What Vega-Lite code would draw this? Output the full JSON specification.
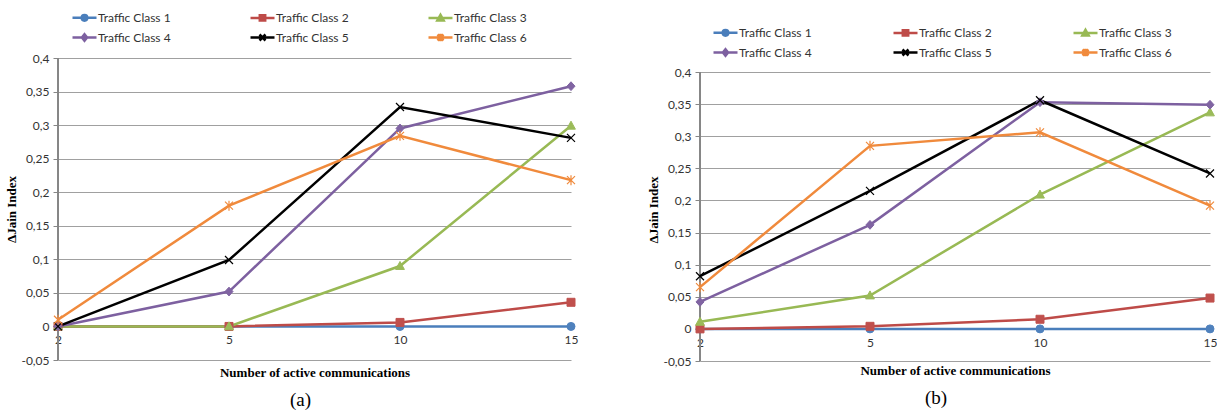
{
  "$schema": "https://vega.github.io/schema/vega-lite/v6.json",
  "background": "white",
  "padding": {"left": 5, "top": 6, "right": 0, "bottom": 0},
  "autosize": {"type": "pad"},
  "spacing": 69,
  "config": {
    "view": {"stroke": null},
    "axis": {"labelFont": "Lato", "labelFontSize": 12, "labelColor": "#333333", "titleFont": "Liberation Serif", "titleFontSize": 13, "titleFontWeight": "bold", "titleColor": "#000000"}
  },
  "datasets": {
    "a": [
      {"n": "2", "series": "Traffic Class 1", "value": 0},
      {"n": "5", "series": "Traffic Class 1", "value": 0},
      {"n": "10", "series": "Traffic Class 1", "value": 0},
      {"n": "15", "series": "Traffic Class 1", "value": 0},
      {"n": "2", "series": "Traffic Class  2", "value": 0},
      {"n": "5", "series": "Traffic Class  2", "value": 0},
      {"n": "10", "series": "Traffic Class  2", "value": 0.006},
      {"n": "15", "series": "Traffic Class  2", "value": 0.036},
      {"n": "2", "series": "Traffic Class  3", "value": 0},
      {"n": "5", "series": "Traffic Class  3", "value": 0},
      {"n": "10", "series": "Traffic Class  3", "value": 0.09},
      {"n": "15", "series": "Traffic Class  3", "value": 0.299},
      {"n": "2", "series": "Traffic Class  4", "value": 0},
      {"n": "5", "series": "Traffic Class  4", "value": 0.052},
      {"n": "10", "series": "Traffic Class  4", "value": 0.295},
      {"n": "15", "series": "Traffic Class  4", "value": 0.358},
      {"n": "2", "series": "Traffic Class  5", "value": 0},
      {"n": "5", "series": "Traffic Class  5", "value": 0.099},
      {"n": "10", "series": "Traffic Class  5", "value": 0.327},
      {"n": "15", "series": "Traffic Class  5", "value": 0.281},
      {"n": "2", "series": "Traffic Class  6", "value": 0.01},
      {"n": "5", "series": "Traffic Class  6", "value": 0.18},
      {"n": "10", "series": "Traffic Class  6", "value": 0.284},
      {"n": "15", "series": "Traffic Class  6", "value": 0.218}
    ],
    "b": [
      {"n": "2", "series": "Traffic Class 1", "value": 0},
      {"n": "5", "series": "Traffic Class 1", "value": 0},
      {"n": "10", "series": "Traffic Class 1", "value": 0},
      {"n": "15", "series": "Traffic Class 1", "value": 0},
      {"n": "2", "series": "Traffic Class  2", "value": 0},
      {"n": "5", "series": "Traffic Class  2", "value": 0.004},
      {"n": "10", "series": "Traffic Class  2", "value": 0.015},
      {"n": "15", "series": "Traffic Class  2", "value": 0.048},
      {"n": "2", "series": "Traffic Class  3", "value": 0.011},
      {"n": "5", "series": "Traffic Class  3", "value": 0.052},
      {"n": "10", "series": "Traffic Class  3", "value": 0.209},
      {"n": "15", "series": "Traffic Class  3", "value": 0.337},
      {"n": "2", "series": "Traffic Class  4", "value": 0.042},
      {"n": "5", "series": "Traffic Class  4", "value": 0.162},
      {"n": "10", "series": "Traffic Class  4", "value": 0.353},
      {"n": "15", "series": "Traffic Class  4", "value": 0.349},
      {"n": "2", "series": "Traffic Class  5", "value": 0.082},
      {"n": "5", "series": "Traffic Class  5", "value": 0.215},
      {"n": "10", "series": "Traffic Class  5", "value": 0.356},
      {"n": "15", "series": "Traffic Class  5", "value": 0.242},
      {"n": "2", "series": "Traffic Class  6", "value": 0.065},
      {"n": "5", "series": "Traffic Class  6", "value": 0.285},
      {"n": "10", "series": "Traffic Class  6", "value": 0.306},
      {"n": "15", "series": "Traffic Class  6", "value": 0.192}
    ]
  },
  "resolve": {
    "scale": {"x": "independent", "y": "independent", "color": "independent"},
    "legend": {"color": "independent"}
  },
  "hconcat": [
    {
      "width": 513,
      "height": 302,
      "data": {"name": "a"},
      "title": {"text": "(a)", "orient": "bottom", "font": "Liberation Serif", "fontSize": 19, "fontWeight": "normal", "color": "#000000", "anchor": "middle", "offset": 12, "dx": -14},
      "encoding": {
        "x": {"field": "n", "type": "ordinal", "sort": ["2", "5", "10", "15"], "scale": {"type": "point", "padding": 0},
          "axis": {"title": "Number of active communications", "labelAngle": 0, "offset": -34, "ticks": false, "domain": true, "domainColor": "#868686", "labelPadding": 8, "titlePadding": 21, "grid": false}},
        "y": {"field": "value", "type": "quantitative", "scale": {"domain": [-0.05, 0.4], "nice": false, "zero": false},
          "axis": {"title": "ΔJain Index", "titlePadding": 2, "values": [-0.05, 0, 0.05, 0.1, 0.15, 0.2, 0.25, 0.3, 0.35, 0.4], "labelExpr": "replace(replace(format(datum.value, '.2~f'), '.', ','), '\u2212', '-')", "grid": true, "gridColor": "#A0A0A0", "domain": false, "tickColor": "#868686", "tickSize": 5, "labelPadding": 4}},
        "color": {"field": "series", "type": "nominal",
          "scale": {"domain": ["Traffic Class 1", "Traffic Class  2", "Traffic Class  3", "Traffic Class  4", "Traffic Class  5", "Traffic Class  6"], "range": ["#4A7EBB", "#BE4B48", "#98B954", "#7D60A0", "#000000", "#F08A3C"]},
          "legend": {"orient": "none", "legendX": 15, "legendY": -52, "direction": "horizontal", "columns": 3, "title": null, "symbolSize": 400, "labelOffset": 2, "columnPadding": 71, "rowPadding": 0, "padding": 0, "labelFont": "Lato", "labelFontSize": 12, "labelColor": "#333333",
            "encoding": {"symbols": {
              "shape": {"value": {"expr": "['M-1.2,0H1.2M-0.28,0A0.28,0.28,0,1,0,0.28,0A0.28,0.28,0,1,0,-0.28,0Z','M-1.2,0H1.2M-0.27,-0.27H0.27V0.27H-0.27Z','M-1.2,0H1.2M0,-0.32L0.32,0.26H-0.32Z','M-1.2,0H1.2M0,-0.32L0.26,0L0,0.32L-0.26,0Z','M-1.2,0H1.2M-0.3,-0.3L0.3,0.3M0.3,-0.3L-0.3,0.3','M-1.2,0H1.2M-0.3,-0.3L0.3,0.3M0.3,-0.3L-0.3,0.3M0,-0.38V0.38'][datum.index]"}},
              "fill": {"value": {"expr": "['#4F81BD','#C0504D','#9BBB59','#8064A2','#000000','#F79646'][datum.index]"}},
              "stroke": {"value": {"expr": "['#4A7EBB','#BE4B48','#98B954','#7D60A0','#000000','#F08A3C'][datum.index]"}},
              "strokeWidth": {"value": 2.5},
              "opacity": {"value": 1},
              "fillOpacity": {"value": 1},
              "strokeOpacity": {"value": 1}
            }}}
        }
      },
      "layer": [
        {"mark": {"type": "rule", "color": "#868686", "strokeWidth": 1}, "encoding": {"x": {"datum": "2", "type": "ordinal"}, "y": {"datum": -0.05}, "y2": {"datum": 0.4}, "color": {"value": "#868686"}}},
        {"mark": {"type": "line", "strokeWidth": 2.5}},
        {"transform": [{"filter": "datum.series === 'Traffic Class 1'"}], "mark": {"type": "point", "filled": true, "size": 64, "opacity": 1, "shape": "circle", "stroke": "#4F81BD", "strokeWidth": 1}, "encoding": {"color": {"value": "#4F81BD"}}},
        {"transform": [{"filter": "datum.series === 'Traffic Class  2'"}], "mark": {"type": "point", "filled": true, "size": 64, "opacity": 1, "shape": "square", "stroke": "#C0504D", "strokeWidth": 1}, "encoding": {"color": {"value": "#C0504D"}}},
        {"transform": [{"filter": "datum.series === 'Traffic Class  3'"}], "mark": {"type": "point", "filled": true, "size": 64, "opacity": 1, "shape": "M0,-1.15L1.1,0.85H-1.1Z", "stroke": "#9BBB59", "strokeWidth": 1}, "encoding": {"color": {"value": "#9BBB59"}}},
        {"transform": [{"filter": "datum.series === 'Traffic Class  4'"}], "mark": {"type": "point", "filled": true, "size": 64, "opacity": 1, "shape": "M0,-1.1L1,0L0,1.1L-1,0Z", "stroke": "#8064A2", "strokeWidth": 1}, "encoding": {"color": {"value": "#8064A2"}}},
        {"transform": [{"filter": "datum.series === 'Traffic Class  5'"}], "mark": {"type": "point", "filled": true, "size": 64, "opacity": 1, "shape": "M-1,-1L1,1M1,-1L-1,1", "stroke": "#000000", "strokeWidth": 1.2}, "encoding": {"color": {"value": "#000000"}}},
        {"transform": [{"filter": "datum.series === 'Traffic Class  6'"}], "mark": {"type": "point", "filled": true, "size": 64, "opacity": 1, "shape": "M-1,-1L1,1M1,-1L-1,1M0,-1.25V1.25", "stroke": "#F08A3C", "strokeWidth": 1.2}, "encoding": {"color": {"value": "#F08A3C"}}}
      ]
    },
    {
      "width": 510,
      "height": 303,
      "data": {"name": "b"},
      "title": {"text": "(b)", "orient": "bottom", "font": "Liberation Serif", "fontSize": 19, "fontWeight": "normal", "color": "#000000", "anchor": "middle", "offset": 12, "dx": -19},
      "encoding": {
        "x": {"field": "n", "type": "ordinal", "sort": ["2", "5", "10", "15"], "scale": {"type": "point", "padding": 0},
          "axis": {"title": "Number of active communications", "labelAngle": 0, "offset": -32, "ticks": false, "domain": true, "domainColor": "#868686", "labelPadding": 8, "titlePadding": 16, "grid": false}},
        "y": {"field": "value", "type": "quantitative", "scale": {"domain": [-0.05, 0.4218], "nice": false, "zero": false},
          "axis": {"title": "ΔJain Index", "titlePadding": 2, "values": [-0.05, 0, 0.05, 0.1, 0.15, 0.2, 0.25, 0.3, 0.35, 0.4], "labelExpr": "replace(replace(format(datum.value, '.2~f'), '.', ','), '\u2212', '-')", "grid": true, "gridColor": "#A0A0A0", "domain": false, "tickColor": "#868686", "tickSize": 5, "labelPadding": 4}},
        "color": {"field": "series", "type": "nominal",
          "scale": {"domain": ["Traffic Class 1", "Traffic Class  2", "Traffic Class  3", "Traffic Class  4", "Traffic Class  5", "Traffic Class  6"], "range": ["#4A7EBB", "#BE4B48", "#98B954", "#7D60A0", "#000000", "#F08A3C"]},
          "legend": {"orient": "none", "legendX": 14, "legendY": -37, "direction": "horizontal", "columns": 3, "title": null, "symbolSize": 400, "labelOffset": 2, "columnPadding": 73, "rowPadding": -2, "padding": 0, "labelFont": "Lato", "labelFontSize": 12, "labelColor": "#333333",
            "encoding": {"symbols": {
              "shape": {"value": {"expr": "['M-1.2,0H1.2M-0.28,0A0.28,0.28,0,1,0,0.28,0A0.28,0.28,0,1,0,-0.28,0Z','M-1.2,0H1.2M-0.27,-0.27H0.27V0.27H-0.27Z','M-1.2,0H1.2M0,-0.32L0.32,0.26H-0.32Z','M-1.2,0H1.2M0,-0.32L0.26,0L0,0.32L-0.26,0Z','M-1.2,0H1.2M-0.3,-0.3L0.3,0.3M0.3,-0.3L-0.3,0.3','M-1.2,0H1.2M-0.3,-0.3L0.3,0.3M0.3,-0.3L-0.3,0.3M0,-0.38V0.38'][datum.index]"}},
              "fill": {"value": {"expr": "['#4F81BD','#C0504D','#9BBB59','#8064A2','#000000','#F79646'][datum.index]"}},
              "stroke": {"value": {"expr": "['#4A7EBB','#BE4B48','#98B954','#7D60A0','#000000','#F08A3C'][datum.index]"}},
              "strokeWidth": {"value": 2.5},
              "opacity": {"value": 1},
              "fillOpacity": {"value": 1},
              "strokeOpacity": {"value": 1}
            }}}
        }
      },
      "layer": [
        {"mark": {"type": "rule", "color": "#868686", "strokeWidth": 1}, "encoding": {"x": {"datum": "2", "type": "ordinal"}, "y": {"datum": -0.05}, "y2": {"datum": 0.4}, "color": {"value": "#868686"}}},
        {"mark": {"type": "line", "strokeWidth": 2.5}},
        {"transform": [{"filter": "datum.series === 'Traffic Class 1'"}], "mark": {"type": "point", "filled": true, "size": 64, "opacity": 1, "shape": "circle", "stroke": "#4F81BD", "strokeWidth": 1}, "encoding": {"color": {"value": "#4F81BD"}}},
        {"transform": [{"filter": "datum.series === 'Traffic Class  2'"}], "mark": {"type": "point", "filled": true, "size": 64, "opacity": 1, "shape": "square", "stroke": "#C0504D", "strokeWidth": 1}, "encoding": {"color": {"value": "#C0504D"}}},
        {"transform": [{"filter": "datum.series === 'Traffic Class  3'"}], "mark": {"type": "point", "filled": true, "size": 64, "opacity": 1, "shape": "M0,-1.15L1.1,0.85H-1.1Z", "stroke": "#9BBB59", "strokeWidth": 1}, "encoding": {"color": {"value": "#9BBB59"}}},
        {"transform": [{"filter": "datum.series === 'Traffic Class  4'"}], "mark": {"type": "point", "filled": true, "size": 64, "opacity": 1, "shape": "M0,-1.1L1,0L0,1.1L-1,0Z", "stroke": "#8064A2", "strokeWidth": 1}, "encoding": {"color": {"value": "#8064A2"}}},
        {"transform": [{"filter": "datum.series === 'Traffic Class  5'"}], "mark": {"type": "point", "filled": true, "size": 64, "opacity": 1, "shape": "M-1,-1L1,1M1,-1L-1,1", "stroke": "#000000", "strokeWidth": 1.2}, "encoding": {"color": {"value": "#000000"}}},
        {"transform": [{"filter": "datum.series === 'Traffic Class  6'"}], "mark": {"type": "point", "filled": true, "size": 64, "opacity": 1, "shape": "M-1,-1L1,1M1,-1L-1,1M0,-1.25V1.25", "stroke": "#F08A3C", "strokeWidth": 1.2}, "encoding": {"color": {"value": "#F08A3C"}}}
      ]
    }
  ]
}
